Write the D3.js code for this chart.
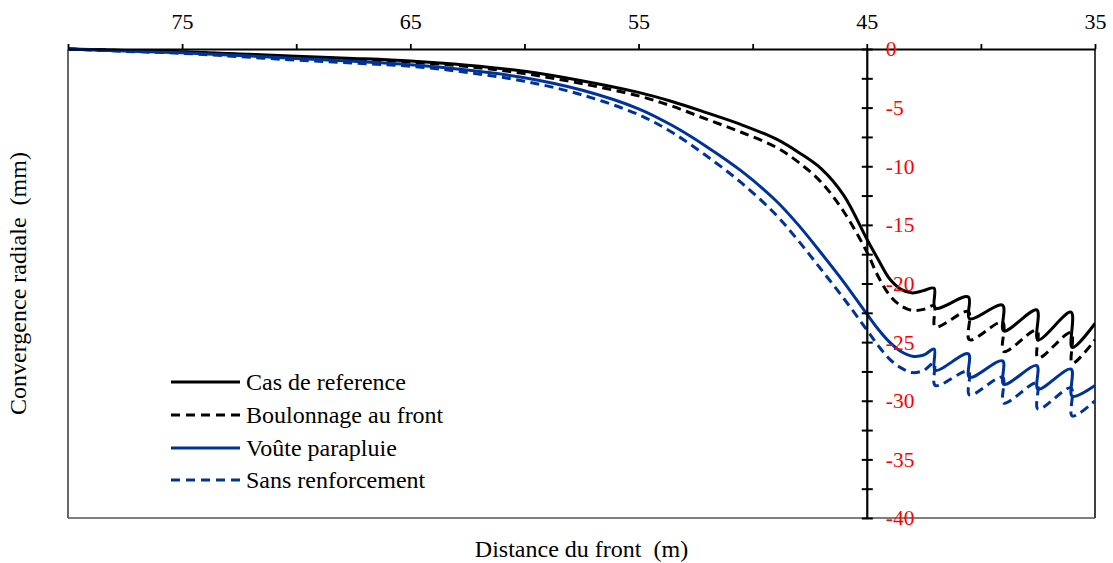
<!DOCTYPE html>
<html>
<head>
<meta charset="utf-8">
<script src="https://cdn.jsdelivr.net/npm/d3@7"></script>
<style>
  html, body { margin: 0; padding: 0; background: #fff; }
  svg text { font-family: "Liberation Serif", "Times New Roman", serif; }
</style>
</head>
<body>
<svg id="chart" width="1113" height="563"></svg>
<script>
// Distance to the tunnel face (m); repeated positions mark the jump at each excavation step
const distance = [80, 77.5, 75, 72.5, 70, 67.5, 65, 62.5, 60, 57.5, 55, 53.5, 52, 50.5, 49, 48, 47, 46, 45,
  44.5, 44, 43.5, 43, 42.5, 42.05, 42.0, 40.55, 40.5, 39.05, 39.0, 37.55, 37.5, 36.05, 36.0, 35];

// Radial convergence (mm) for each case
const casReference = [0, -0.12, -0.23, -0.42, -0.62, -0.8, -1.02, -1.38, -1.9, -2.7, -3.7, -4.5, -5.45, -6.45, -7.65,
  -8.8, -10.2, -12.5, -16.2, -17.95, -19.6, -20.5, -20.8, -20.6, -20.4, -22.1, -21.15, -23.0, -21.85, -24.05,
  -22.25, -24.8, -22.45, -25.45, -23.4];
const boulonnageFront = [0, -0.14, -0.27, -0.46, -0.68, -0.88, -1.12, -1.5, -2.1, -2.95, -4.0, -4.9, -6.0, -7.1, -8.35,
  -9.65, -11.35, -13.9, -17.3, -19.4, -21.0, -21.9, -22.3, -22.2, -21.9, -23.7, -22.4, -24.8, -23.3, -25.8,
  -24.0, -26.35, -24.2, -26.8, -24.8];
const vouteParapluie = [0, -0.17, -0.32, -0.55, -0.8, -1.05, -1.35, -1.8, -2.45, -3.5, -5.1, -6.55, -8.35, -10.4, -12.9,
  -15.0, -17.4, -19.9, -22.6, -23.9, -25.0, -25.8, -26.2, -26.1, -25.6, -27.4, -26.0, -28.0, -26.6, -28.6,
  -27.0, -29.0, -27.3, -29.6, -28.7];
const sansRenforcement = [0, -0.2, -0.37, -0.65, -0.95, -1.2, -1.47, -2.0, -2.75, -3.9, -5.6, -7.15, -9.15, -11.4, -14.1,
  -16.35, -18.8, -21.3, -23.95, -25.3, -26.45, -27.2, -27.6, -27.4, -26.8, -28.7, -27.5, -29.5, -28.0, -30.2,
  -28.5, -30.7, -28.9, -31.3, -30.0];

const seriesNames = ["Cas de reference", "Boulonnage au front", "Voûte parapluie", "Sans renforcement"];
const seriesValues = [casReference, boulonnageFront, vouteParapluie, sansRenforcement];
const seriesColors = ["#000000", "#000000", "#003399", "#003399"];
const seriesDashed = [false, true, false, true];

// Axis ticks
const xTicks = [80, 75, 70, 65, 60, 55, 50, 45, 40, 35];
const xTickLabels = [75, 65, 55, 45, 35];
const yTicks = d3.range(0, -40.01, -2.5);
const yTickLabels = [0, -5, -10, -15, -20, -25, -30, -35, -40];

const svg = d3.select("#chart");
const plotLeft = 68, plotRight = 1095, plotTop = 49, plotBottom = 518;

const x = d3.scaleLinear().domain([80, 35]).range([plotLeft, plotRight]);
const y = d3.scaleLinear().domain([0, -40]).range([plotTop, plotBottom]);

// frame
svg.append("line").attr("x1", plotLeft).attr("x2", plotLeft).attr("y1", plotTop).attr("y2", plotBottom)
  .attr("stroke", "#000").attr("stroke-width", 1.2);
svg.append("line").attr("x1", plotRight).attr("x2", plotRight).attr("y1", plotTop).attr("y2", plotBottom)
  .attr("stroke", "#000").attr("stroke-width", 1.5);
svg.append("line").attr("x1", plotLeft).attr("x2", plotRight).attr("y1", plotBottom).attr("y2", plotBottom)
  .attr("stroke", "#555").attr("stroke-width", 1.5);

// clip
svg.append("clipPath").attr("id", "plotClip").append("rect")
  .attr("x", plotLeft).attr("y", plotTop - 2)
  .attr("width", plotRight - plotLeft).attr("height", plotBottom - plotTop + 2);

// curves
const line = d3.line()
  .x((d, i) => x(distance[i]))
  .y(d => y(d))
  .curve(d3.curveCatmullRom.alpha(0.5));

const curves = svg.append("g").attr("clip-path", "url(#plotClip)");
seriesValues.forEach((vals, k) => {
  curves.append("path")
    .attr("d", line(vals))
    .attr("fill", "none")
    .attr("stroke", seriesColors[k])
    .attr("stroke-width", 3)
    .attr("stroke-dasharray", seriesDashed[k] ? "9,5.5" : null);
});

// top axis
const xAxis = d3.axisTop(x)
  .tickValues(xTicks)
  .tickSizeInner(5).tickSizeOuter(0).tickPadding(15)
  .tickFormat(d => xTickLabels.includes(d) ? d : "");
const gx = svg.append("g").attr("transform", `translate(0,${plotTop})`).call(xAxis);
gx.select(".domain").attr("stroke", "#000").attr("stroke-width", 1.8);
gx.selectAll(".tick line").attr("stroke", "#000").attr("stroke-width", 1.8);
gx.selectAll(".tick text").attr("font-size", 22).attr("fill", "#000")
  .style("font-family", "'Liberation Serif', 'Times New Roman', serif");

// vertical axis at the face (45 m)
const yAxis = d3.axisRight(y)
  .tickValues(yTicks)
  .tickSizeInner(6).tickSizeOuter(0).tickPadding(13)
  .tickFormat(d => yTickLabels.includes(d) ? d : "");
const gy = svg.append("g").attr("transform", `translate(${x(45)},0)`).call(yAxis);
gy.select(".domain").attr("stroke", "#000").attr("stroke-width", 2.2);
gy.selectAll(".tick line").attr("x1", -5).attr("stroke", "#000").attr("stroke-width", 2);
gy.selectAll(".tick text").attr("font-size", 21.5).attr("fill", "#ff0000")
  .style("font-family", "'Liberation Serif', 'Times New Roman', serif");

// axis titles
svg.append("text")
  .attr("x", (plotLeft + plotRight) / 2).attr("y", 557)
  .attr("text-anchor", "middle").attr("font-size", 24)
  .style("white-space", "pre")
  .text("Distance du front  (m)");
svg.append("text")
  .attr("transform", `translate(26,${(plotTop + plotBottom) / 2}) rotate(-90)`)
  .attr("text-anchor", "middle").attr("font-size", 24)
  .style("white-space", "pre")
  .text("Convergence radiale  (mm)");

// legend
const legendY = [382, 415, 448, 480];
const legend = svg.append("g");
seriesNames.forEach((name, k) => {
  legend.append("line")
    .attr("x1", 171).attr("x2", 240).attr("y1", legendY[k]).attr("y2", legendY[k])
    .attr("stroke", seriesColors[k]).attr("stroke-width", 3)
    .attr("stroke-dasharray", seriesDashed[k] ? "9,6" : null);
  legend.append("text")
    .attr("x", 246).attr("y", legendY[k]).attr("dy", "0.35em")
    .attr("font-size", 24)
    .text(name);
});
</script>
</body>
</html>
